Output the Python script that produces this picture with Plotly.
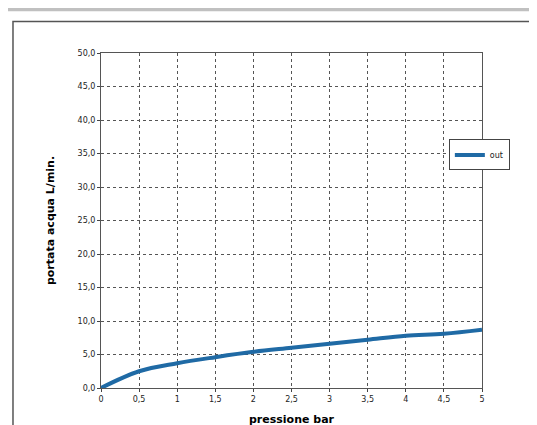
import plotly.graph_objects as go

# dati
pressione = [0, 0.5, 1, 1.5, 2, 2.5, 3, 3.5, 4, 4.5, 5]
portata = [0.0, 2.5, 3.7, 4.6, 5.4, 6.0, 6.6, 7.2, 7.8, 8.1, 8.7]
x_ticks = [0, 0.5, 1, 1.5, 2, 2.5, 3, 3.5, 4, 4.5, 5]
x_labels = ['0', '0,5', '1', '1,5', '2', '2,5', '3', '3,5', '4', '4,5', '5']
y_ticks = [0, 5, 10, 15, 20, 25, 30, 35, 40, 45, 50]
y_labels = [('%.1f' % v).replace('.', ',') for v in y_ticks]

fig = go.Figure()
fig.add_trace(go.Scatter(
    x=pressione, y=portata, mode='lines', name='out',
    line=dict(color='#1f6aa5', width=4, shape='spline'),
))

fig.update_layout(
    width=537, height=425,
    margin=dict(l=93, r=63, t=45, b=45, autoexpand=False),
    paper_bgcolor='white', plot_bgcolor='white',
    font=dict(family='DejaVu Sans', size=8, color='#222'),
    showlegend=True,
    legend=dict(x=0.913, y=0.742, xanchor='left', yanchor='top',
                bordercolor='#444', borderwidth=1, bgcolor='white',
                font=dict(size=8)),
    shapes=[
        dict(type='rect', xref='paper', yref='paper', x0=-0.3, x1=1.2, y0=1.125, y1=1.2,
             fillcolor='#c0c0c0', line=dict(width=0), layer='below'),
        dict(type='rect', xref='paper', yref='paper', x0=-0.231, x1=1.163, y0=-0.16, y1=1.094,
             line=dict(color='#555', width=1.5), layer='below'),
    ],
)
fig.update_xaxes(
    range=[0, 5], tickvals=x_ticks, ticktext=x_labels,
    showgrid=True, gridcolor='#555', griddash='dot', gridwidth=1,
    showline=True, linecolor='#555', mirror=True, ticks='outside', ticklen=3,
    title=dict(text='<b>pressione bar</b>', font=dict(size=11, color='black'), standoff=12),
    zeroline=False,
)
fig.update_yaxes(
    range=[0, 50], tickvals=y_ticks, ticktext=y_labels,
    showgrid=True, gridcolor='#555', griddash='dot', gridwidth=1,
    showline=True, linecolor='#555', mirror=True, ticks='outside', ticklen=3,
    title=dict(text='<b>portata acqua L/min.</b>', font=dict(size=11, color='black'), standoff=20),
    zeroline=False,
)

fig.write_html('out.html')
